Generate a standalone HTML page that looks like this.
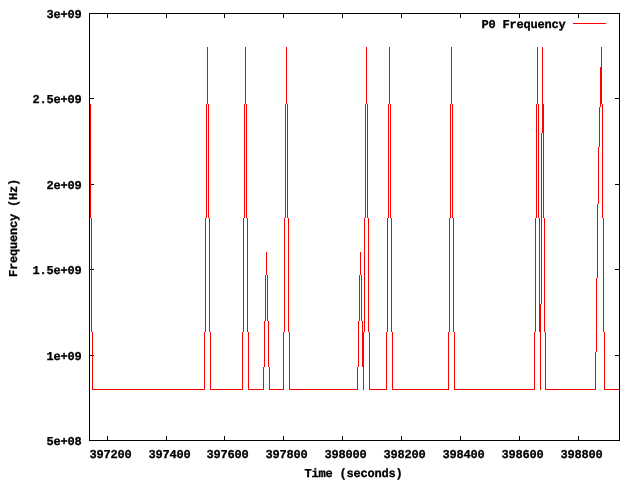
<!DOCTYPE html>
<html lang="en"><head><meta charset="utf-8"><title>P0 Frequency</title>
<style>html,body{margin:0;padding:0;background:#fff;}body{width:640px;height:480px;overflow:hidden;position:relative;}svg{position:absolute;left:0;top:0;display:block;}.t{position:absolute;white-space:pre;font-family:"Liberation Mono", monospace;font-weight:bold;font-size:12px;line-height:13px;height:13px;color:#000;transform-origin:0 0;letter-spacing:-0.2012px;-webkit-text-stroke:0.3px #000;text-rendering:geometricPrecision;}.r{text-align:right;}</style></head><body>
<svg width="640" height="480" viewBox="0 0 640 480" shape-rendering="crispEdges">
<rect x="0" y="0" width="640" height="480" fill="#fff"/>
<g fill="#000">
<rect x="89" y="13" width="531" height="1"/><rect x="89" y="440" width="531" height="1"/>
<rect x="89" y="13" width="1" height="428"/><rect x="619" y="13" width="1" height="428"/>
<rect x="107" y="436" width="1" height="4"/><rect x="107" y="14" width="1" height="4"/>
<rect x="166" y="436" width="1" height="4"/><rect x="166" y="14" width="1" height="4"/>
<rect x="224" y="436" width="1" height="4"/><rect x="224" y="14" width="1" height="4"/>
<rect x="283" y="436" width="1" height="4"/><rect x="283" y="14" width="1" height="4"/>
<rect x="342" y="436" width="1" height="4"/><rect x="342" y="14" width="1" height="4"/>
<rect x="401" y="436" width="1" height="4"/><rect x="401" y="14" width="1" height="4"/>
<rect x="460" y="436" width="1" height="4"/><rect x="460" y="14" width="1" height="4"/>
<rect x="519" y="436" width="1" height="4"/><rect x="519" y="14" width="1" height="4"/>
<rect x="578" y="436" width="1" height="4"/><rect x="578" y="14" width="1" height="4"/>
<rect x="90" y="13" width="4" height="1"/><rect x="615" y="13" width="4" height="1"/>
<rect x="90" y="98" width="4" height="1"/><rect x="615" y="98" width="4" height="1"/>
<rect x="90" y="184" width="4" height="1"/><rect x="615" y="184" width="4" height="1"/>
<rect x="90" y="269" width="4" height="1"/><rect x="615" y="269" width="4" height="1"/>
<rect x="90" y="355" width="4" height="1"/><rect x="615" y="355" width="4" height="1"/>
<rect x="90" y="440" width="4" height="1"/><rect x="615" y="440" width="4" height="1"/>
</g>
<g fill="#f00">
<rect x="90" y="104" width="1" height="114"/>
<rect x="91" y="218" width="1" height="114"/>
<rect x="92" y="332" width="1" height="58"/>
<rect x="207" y="47" width="1" height="57"/>
<rect x="206" y="104" width="1" height="114"/>
<rect x="205" y="218" width="1" height="114"/>
<rect x="204" y="332" width="1" height="58"/>
<rect x="208" y="104" width="1" height="114"/>
<rect x="209" y="218" width="1" height="114"/>
<rect x="210" y="332" width="1" height="58"/>
<rect x="245" y="47" width="1" height="57"/>
<rect x="244" y="104" width="1" height="114"/>
<rect x="243" y="218" width="1" height="114"/>
<rect x="242" y="332" width="1" height="58"/>
<rect x="246" y="104" width="1" height="114"/>
<rect x="247" y="218" width="1" height="114"/>
<rect x="248" y="332" width="1" height="58"/>
<rect x="286" y="47" width="1" height="57"/>
<rect x="285" y="104" width="1" height="114"/>
<rect x="284" y="218" width="1" height="114"/>
<rect x="283" y="332" width="1" height="58"/>
<rect x="287" y="104" width="1" height="114"/>
<rect x="288" y="218" width="1" height="114"/>
<rect x="289" y="332" width="1" height="58"/>
<rect x="366" y="47" width="1" height="57"/>
<rect x="365" y="104" width="1" height="114"/>
<rect x="364" y="218" width="1" height="114"/>
<rect x="363" y="332" width="1" height="58"/>
<rect x="367" y="104" width="1" height="114"/>
<rect x="368" y="218" width="1" height="114"/>
<rect x="369" y="332" width="1" height="58"/>
<rect x="389" y="47" width="1" height="57"/>
<rect x="388" y="104" width="1" height="114"/>
<rect x="387" y="218" width="1" height="114"/>
<rect x="386" y="332" width="1" height="58"/>
<rect x="390" y="104" width="1" height="114"/>
<rect x="391" y="218" width="1" height="114"/>
<rect x="392" y="332" width="1" height="58"/>
<rect x="451" y="47" width="1" height="57"/>
<rect x="450" y="104" width="1" height="114"/>
<rect x="449" y="218" width="1" height="114"/>
<rect x="448" y="332" width="1" height="58"/>
<rect x="452" y="104" width="1" height="114"/>
<rect x="453" y="218" width="1" height="114"/>
<rect x="454" y="332" width="1" height="58"/>
<rect x="266" y="252" width="1" height="23"/>
<rect x="265" y="275" width="1" height="46"/>
<rect x="264" y="321" width="1" height="46"/>
<rect x="263" y="367" width="1" height="23"/>
<rect x="267" y="275" width="1" height="46"/>
<rect x="268" y="321" width="1" height="46"/>
<rect x="269" y="367" width="1" height="23"/>
<rect x="360" y="252" width="1" height="23"/>
<rect x="359" y="275" width="1" height="46"/>
<rect x="358" y="321" width="1" height="46"/>
<rect x="357" y="367" width="1" height="23"/>
<rect x="361" y="275" width="1" height="46"/>
<rect x="362" y="321" width="1" height="46"/>
<rect x="363" y="367" width="1" height="23"/>
<rect x="534" y="332" width="1" height="58"/>
<rect x="535" y="218" width="1" height="114"/>
<rect x="536" y="104" width="1" height="114"/>
<rect x="537" y="47" width="1" height="57"/>
<rect x="538" y="104" width="1" height="114"/>
<rect x="539" y="218" width="1" height="114"/>
<rect x="540" y="304" width="1" height="86"/>
<rect x="541" y="133" width="1" height="171"/>
<rect x="542" y="47" width="1" height="86"/>
<rect x="543" y="104" width="1" height="114"/>
<rect x="544" y="218" width="1" height="114"/>
<rect x="545" y="332" width="1" height="58"/>
<rect x="595" y="352" width="1" height="38"/>
<rect x="596" y="278" width="1" height="74"/>
<rect x="597" y="204" width="1" height="74"/>
<rect x="598" y="147" width="1" height="57"/>
<rect x="599" y="107" width="1" height="40"/>
<rect x="600" y="67" width="1" height="40"/>
<rect x="601" y="47" width="1" height="57"/>
<rect x="602" y="104" width="1" height="114"/>
<rect x="603" y="218" width="1" height="114"/>
<rect x="604" y="332" width="1" height="58"/>
<rect x="92" y="389" width="113" height="1"/>
<rect x="210" y="389" width="33" height="1"/>
<rect x="248" y="389" width="16" height="1"/>
<rect x="269" y="389" width="15" height="1"/>
<rect x="289" y="389" width="69" height="1"/>
<rect x="369" y="389" width="18" height="1"/>
<rect x="392" y="389" width="57" height="1"/>
<rect x="454" y="389" width="81" height="1"/>
<rect x="545" y="389" width="51" height="1"/>
<rect x="604" y="389" width="15" height="1"/>
<rect x="573" y="23" width="33" height="1"/>
</g></svg>
<div class="t" style="left:46.5px;top:9px;width:35px;">3e+09</div>
<div class="t" style="left:32.5px;top:94px;width:49px;">2.5e+09</div>
<div class="t" style="left:46.5px;top:180px;width:35px;">2e+09</div>
<div class="t" style="left:32.5px;top:265px;width:49px;">1.5e+09</div>
<div class="t" style="left:46.5px;top:351px;width:35px;">1e+09</div>
<div class="t" style="left:46.5px;top:436px;width:35px;">5e+08</div>
<div class="t" style="left:89.5px;top:449px;width:42px;">397200</div>
<div class="t" style="left:148.5px;top:449px;width:42px;">397400</div>
<div class="t" style="left:206.5px;top:449px;width:42px;">397600</div>
<div class="t" style="left:265.5px;top:449px;width:42px;">397800</div>
<div class="t" style="left:324.5px;top:449px;width:42px;">398000</div>
<div class="t" style="left:383.5px;top:449px;width:42px;">398200</div>
<div class="t" style="left:442.5px;top:449px;width:42px;">398400</div>
<div class="t" style="left:501.5px;top:449px;width:42px;">398600</div>
<div class="t" style="left:560.5px;top:449px;width:42px;">398800</div>
<div class="t" style="left:304.5px;top:468px;width:98px;">Time (seconds)</div>
<div class="t" style="left:481.5px;top:19px;width:84px;">P0 Frequency</div>
<div style="position:absolute;left:7px;top:277px;width:98px;height:13px;transform-origin:0 0;transform:rotate(-90deg);"><div class="t" style="left:0;top:1px;width:98px;">Frequency (Hz)</div></div>
</body></html>
